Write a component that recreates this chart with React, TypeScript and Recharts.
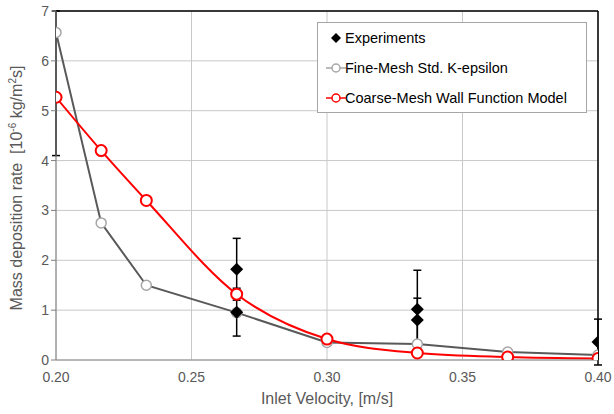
import {
  ComposedChart,
  Line,
  Scatter,
  ErrorBar,
  XAxis,
  YAxis,
  CartesianGrid,
  ReferenceLine,
  Label,
} from "recharts";

const velocities = [0.2, 0.21667, 0.23333, 0.26667, 0.3, 0.33333, 0.36667, 0.4];
const fineMesh = [6.57, 2.75, 1.5, 0.95, 0.35, 0.32, 0.16, 0.1];
const coarseMesh = [5.27, 4.2, 3.2, 1.32, 0.42, 0.14, 0.06, 0.03];

const expVelocity = [0.2, 0.26667, 0.26667, 0.33333, 0.33333, 0.4];
const expRate = [5.27, 1.82, 0.96, 1.02, 0.8, 0.36];
const expErrLow = [1.17, 0.62, 0.48, 0.78, 0.44, 0.46];
const expErrHigh = [1.73, 0.62, 0.48, 0.78, 0.44, 0.46];

const xTicks = [0.2, 0.25, 0.3, 0.35, 0.4];
const yTicks = [0, 1, 2, 3, 4, 5, 6, 7];

const fineData = velocities.map((x, i) => ({ x, y: fineMesh[i] }));
const coarseData = velocities.map((x, i) => ({ x, y: coarseMesh[i] }));
const expData = expVelocity.map((x, i) => ({
  x,
  y: expRate[i],
  err: [expErrLow[i], expErrHigh[i]],
}));

const FONT = '"Liberation Sans", Arial, sans-serif';
const GREY_TEXT = "#595959";

// square diamond marker like the spreadsheet one
function Diamond(props: any) {
  const { cx, cy } = props;
  const h = 6.5;
  return (
    <polygon
      points={`${cx},${cy - h} ${cx + h},${cy} ${cx},${cy + h} ${cx - h},${cy}`}
      fill="#000"
    />
  );
}

function LegendBox() {
  return (
    <div
      style={{
        position: "absolute",
        left: 317,
        top: 22,
        width: 268,
        height: 89,
        border: "1px solid #a6a6a6",
        background: "#fff",
        fontFamily: FONT,
        fontSize: 14.5,
        color: "#000",
      }}
    >
      <svg width={30} height={89} style={{ position: "absolute", left: 0, top: 0 }}>
        <polygon points="18,10 23,15 18,20 13,15" fill="#000" />
        <line x1={8} y1={45} x2={28} y2={45} stroke="#a6a6a6" strokeWidth={1.5} />
        <circle cx={18} cy={45} r={4} fill="#fff" stroke="#a6a6a6" strokeWidth={1.5} />
        <line x1={8} y1={75} x2={28} y2={75} stroke="#ff0000" strokeWidth={1.5} />
        <circle cx={18} cy={75} r={4} fill="#fff" stroke="#ff0000" strokeWidth={1.5} />
      </svg>
      <div style={{ position: "absolute", left: 27, top: 7 }}>Experiments</div>
      <div style={{ position: "absolute", left: 27, top: 37 }}>Fine-Mesh Std. K-epsilon</div>
      <div style={{ position: "absolute", left: 27, top: 67 }}>Coarse-Mesh Wall Function Model</div>
    </div>
  );
}

export default function App() {
  return (
    <div style={{ position: "absolute", left: 0, top: 0, width: 614, height: 414, background: "#fff" }}>
      <ComposedChart
        width={614}
        height={414}
        margin={{ top: 11, right: 16, bottom: 24, left: 16 }}
        style={{ fontFamily: FONT }}
      >
        <CartesianGrid stroke="#c8c8c8" strokeWidth={1} />
        <XAxis
          type="number"
          dataKey="x"
          domain={[0.2, 0.4]}
          ticks={xTicks}
          tickFormatter={(v: number) => v.toFixed(2)}
          allowDataOverflow
          height={30}
          stroke="#8c8c8c"
          tickLine={false}
          tick={{ fill: GREY_TEXT, fontSize: 14 }}
          tickMargin={6}
        >
          <Label
            value="Inlet Velocity, [m/s]"
            position="insideBottom"
            offset={-14}
            style={{ fill: GREY_TEXT, fontSize: 16 }}
          />
        </XAxis>
        <YAxis
          type="number"
          domain={[0, 7]}
          ticks={yTicks}
          allowDataOverflow
          width={40}
          stroke="#7f7f7f"
          tickSize={5}
          tick={{ fill: GREY_TEXT, fontSize: 14 }}
        >
          <Label
            content={() => (
              <text
                x={22}
                y={188}
                transform="rotate(-90 22 188)"
                textAnchor="middle"
                fill={GREY_TEXT}
                fontSize={16}
                fontFamily={FONT}
              >
                {"Mass deposition rate\u00a0 [10"}
                <tspan dy={-6} fontSize={10}>-6</tspan>
                <tspan dy={6}>{"\u00a0kg/m"}</tspan>
                <tspan dy={-6} fontSize={10}>2</tspan>
                <tspan dy={6}>s]</tspan>
              </text>
            )}
          />
        </YAxis>
        <ReferenceLine y={7} stroke="#000" strokeWidth={1.5} />
        <ReferenceLine x={0.4} stroke="#000" strokeWidth={1.5} />
        <Line
          data={fineData}
          dataKey="y"
          type="linear"
          stroke={GREY_TEXT}
          strokeWidth={2}
          dot={{ r: 5, fill: "#fff", stroke: "#a6a6a6", strokeWidth: 1.5 }}
          isAnimationActive={false}
        />
        <Scatter
          data={expData}
          dataKey="y"
          fill="#000"
          shape={Diamond}
          isAnimationActive={false}
        >
          <ErrorBar dataKey="err" direction="y" width={4} stroke="#000" strokeWidth={1.5} />
        </Scatter>
        <Line
          data={coarseData}
          dataKey="y"
          type="monotone"
          stroke="#ff0000"
          strokeWidth={2}
          dot={{ r: 5.5, fill: "#fff", stroke: "#ff0000", strokeWidth: 2 }}
          isAnimationActive={false}
        />
      </ComposedChart>
      <LegendBox />
    </div>
  );
}
